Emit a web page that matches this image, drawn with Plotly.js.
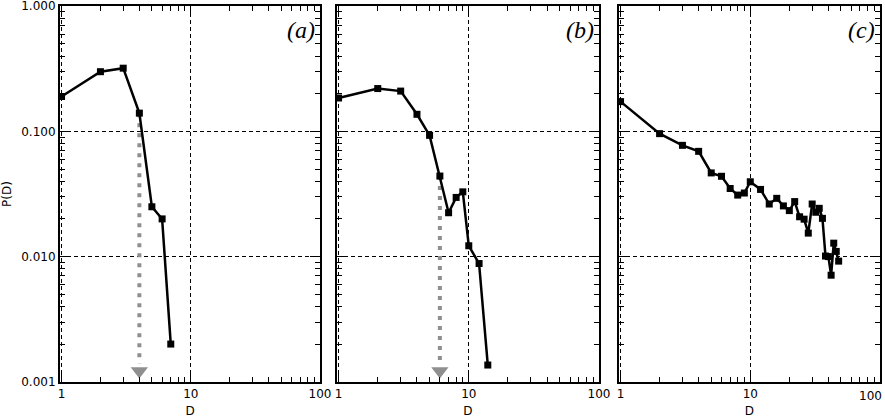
<!DOCTYPE html>
<html>
<head>
<meta charset="utf-8">
<script src="https://cdn.plot.ly/plotly-3.0.1.min.js"></script>
<style>
  html, body { margin: 0; padding: 0; background: #fff; }
  #chart { width: 885px; height: 420px; }
</style>
</head>
<body>
<div id="chart"></div>
<script>
// Distance distributions P(D) for three cases, log-log
const panelLabels = ['(a)', '(b)', '(c)'];

const Da = [1, 2, 3, 4, 5, 6, 7];
const Pa = [0.19, 0.30, 0.32, 0.14, 0.025, 0.020, 0.0020];

const Db = [1, 2, 3, 4, 5, 6, 7, 8, 9, 10, 12, 14];
const Pb = [0.185, 0.22, 0.21, 0.137, 0.093, 0.044, 0.0224, 0.0297, 0.0329, 0.0122, 0.0088, 0.00136];

const Dc = [1, 2, 3, 4, 5, 6, 7, 8, 9, 10, 12, 14, 16, 18, 20, 22, 24, 26, 28, 30,
            32, 34, 36, 38, 40, 42, 44, 46, 48];
const Pc = [0.173, 0.096, 0.0774, 0.0693, 0.0466, 0.0438, 0.035, 0.031, 0.0322, 0.0396,
            0.0344, 0.0263, 0.0292, 0.0254, 0.0233, 0.0275, 0.0208, 0.0199, 0.0154, 0.0263,
            0.0226, 0.0243, 0.0202, 0.0101, 0.0100, 0.0071, 0.0128, 0.0110, 0.0092];

// Cut-off markers: dotted drop line from a point of the curve to the bottom axis
const cutD = [4, 6];          // D value of the cut-off in panels (a) and (b)
const cutTop = [0.14, 0.044]; // value of the curve at that D
const cutBottom = 0.0014;     // where the dotted line ends
const cutArrow = 0.00122;     // arrow head position

const xTicks = [1, 10, 100];
const xTickText = ['1', '10', '100'];
const yTicks = [0.001, 0.01, 0.1, 1];
const yTickText = ['0.001', '0.010', '0.100', '1.000'];

const series = [[Da, Pa], [Db, Pb], [Dc, Pc]];
const suffix = ['', '2', '3'];
const domains = [[0, 0.3171], [0.3378, 0.6573], [0.6817, 1.0]];

const traces = [];
const grey = '#8f8f8f';
for (let i = 0; i < 2; i++) {
  traces.push({
    x: [cutD[i], cutD[i]], y: [cutTop[i], cutBottom],
    xaxis: 'x' + suffix[i], yaxis: 'y' + suffix[i],
    mode: 'lines', line: {color: grey, width: 4, dash: '4px,6px'},
    hoverinfo: 'skip', showlegend: false
  });
  traces.push({
    x: [cutD[i]], y: [cutArrow],
    xaxis: 'x' + suffix[i], yaxis: 'y' + suffix[i],
    mode: 'markers', marker: {symbol: 'triangle-down', size: 15, color: grey},
    hoverinfo: 'skip', showlegend: false
  });
}
series.forEach((s, i) => {
  traces.push({
    x: s[0], y: s[1],
    xaxis: 'x' + suffix[i], yaxis: 'y' + suffix[i],
    mode: 'lines+markers',
    line: {color: '#000', width: 2.5},
    marker: {symbol: 'square', size: 7, color: '#000'},
    showlegend: false
  });
});

const tickFont = {family: 'DejaVu Sans, Liberation Sans, sans-serif', size: 12, color: '#000'};

function xAxis(i) {
  // the last panel's right-hand label sits at the page edge; it is placed as an annotation
  const text = i === 2 ? xTickText.map((t, k) => (k === xTickText.length - 1 ? '' : t)) : xTickText;
  return {
    type: 'log', domain: domains[i], range: [-0.012, 2],
    anchor: 'y' + suffix[i],
    tickvals: xTicks, ticktext: text,
    ticks: 'inside', ticklen: 10, tickwidth: 1, tickcolor: '#000',
    minor: {ticks: 'inside', ticklen: 5, tickwidth: 1, tickcolor: '#000', dtick: 'D1', showgrid: false},
    showline: true, linewidth: 2, linecolor: '#000', mirror: 'allticks',
    showgrid: true, gridcolor: '#000', gridwidth: 1, griddash: '4px,3px',
    zeroline: false, tickfont: tickFont, ticklabeloverflow: 'allow',
    title: {text: 'D', font: tickFont, standoff: 6}
  };
}
function yAxis(i) {
  return {
    type: 'log', range: [-3.002, 0.002],
    anchor: 'x' + suffix[i],
    tickvals: yTicks, ticktext: yTickText, showticklabels: i === 0,
    ticks: 'inside', ticklen: 10, tickwidth: 1, tickcolor: '#000',
    minor: {ticks: 'inside', ticklen: 5, tickwidth: 1, tickcolor: '#000', dtick: 'D1', showgrid: false},
    showline: true, linewidth: 2, linecolor: '#000', mirror: 'allticks',
    showgrid: true, gridcolor: '#000', gridwidth: 1, griddash: '4px,3px',
    zeroline: false, tickfont: tickFont, ticklabeloverflow: 'allow'
  };
}

const layout = {
  width: 885, height: 420,
  margin: {l: 60, r: 5, t: 6, b: 38},
  paper_bgcolor: '#fff', plot_bgcolor: '#fff',
  annotations: [
    {text: 'P(D)', xref: 'paper', yref: 'paper', x: -53 / 820, y: 0.5,
     xanchor: 'center', yanchor: 'middle', textangle: -90, showarrow: false, font: tickFont},
    {text: xTickText[xTickText.length - 1], xref: 'paper', yref: 'paper', x: 1, y: 0,
     xanchor: 'right', yanchor: 'top', xshift: 4, yshift: -5, showarrow: false, font: tickFont}
  ]
};
for (let i = 0; i < 3; i++) {
  layout['xaxis' + suffix[i]] = xAxis(i);
  layout['yaxis' + suffix[i]] = yAxis(i);
  layout.annotations.push({
    text: panelLabels[i],
    xref: 'x' + suffix[i] + ' domain', yref: 'y' + suffix[i] + ' domain',
    x: 1, y: 1, xanchor: 'right', yanchor: 'top', xshift: -3, yshift: -9,
    showarrow: false,
    font: {family: 'Liberation Serif, DejaVu Serif, serif', size: 24, color: '#000', style: 'italic'}
  });
}

Plotly.newPlot('chart', traces, layout, {staticPlot: true});
</script>
</body>
</html>
